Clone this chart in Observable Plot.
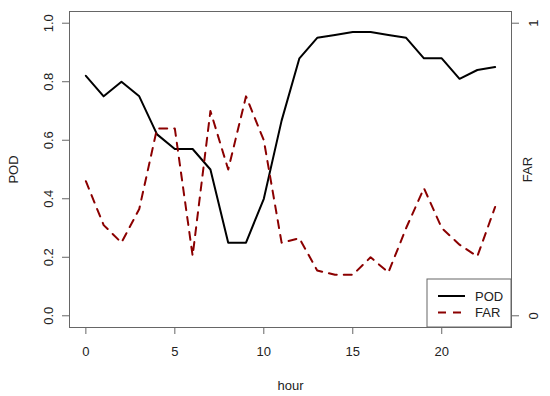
<!DOCTYPE html>
<html><head><meta charset="utf-8">
<script src="https://cdn.jsdelivr.net/npm/d3@7"></script>
<script src="https://cdn.jsdelivr.net/npm/@observablehq/plot@0.6"></script>
<style>body{margin:0;background:#fff} #chart{width:550px;height:396px}</style>
</head><body><div id="chart"></div>
<script>
const hours = [0,1,2,3,4,5,6,7,8,9,10,11,12,13,14,15,16,17,18,19,20,21,22,23];
const pod = [0.82,0.75,0.80,0.75,0.62,0.57,0.57,0.50,0.25,0.25,0.40,0.667,0.88,0.95,0.96,0.97,0.97,0.96,0.95,0.88,0.88,0.81,0.84,0.85];
const far = [0.46,0.31,0.25,0.365,0.64,0.64,0.205,0.70,0.50,0.75,0.60,0.25,0.265,0.155,0.14,0.14,0.20,0.148,0.30,0.436,0.30,0.243,0.203,0.372];
const xTicks = [0,5,10,15,20];
const podTicks = [0,0.2,0.4,0.6,0.8,1.0];
const farTicks = [0,1];
const seriesNames = ["POD","FAR"];
const seriesColors = ["#000000","#8b0000"];
const seriesDash = [null,"8,7"];

const data = hours.map((h,i)=>({hour:h, pod:pod[i], far:far[i]}));
const axisColor = "#666";
const font = "'Liberation Sans', Arial, sans-serif";

const chart = Plot.plot({
  width:550, height:396,
  marginLeft:69, marginRight:39, marginTop:11, marginBottom:69,
  x:{domain:[-0.92,23.92]},
  y:{domain:[-0.04,1.04]},
  style:{fontFamily:font, fontSize:"13px", color:"#222", background:"white"},
  marks:[
    Plot.frame({stroke:axisColor}),
    Plot.axisX({ticks:xTicks, tickFormat:d3.format("d"), tickSize:7, tickPadding:12, stroke:axisColor,
      label:"hour", labelAnchor:"center", labelArrow:"none", labelOffset:62}),
    Plot.axisY({ticks:podTicks, tickFormat:d3.format(".1f"), tickSize:7, tickPadding:10, tickRotate:-90, stroke:axisColor,
      label:"POD", labelAnchor:"center", labelArrow:"none", labelOffset:61}),
    Plot.axisY({anchor:"right", ticks:farTicks, tickFormat:d3.format("d"), tickSize:7, tickPadding:19, tickRotate:-90, stroke:axisColor,
      label:"FAR", labelAnchor:"center", labelArrow:"none", labelOffset:20}),
    Plot.line(data,{x:"hour", y:"pod", stroke:seriesColors[0], strokeWidth:2, strokeLinejoin:"round"}),
    Plot.line(data,{x:"hour", y:"far", stroke:seriesColors[1], strokeWidth:2, strokeDasharray:seriesDash[1], strokeLinejoin:"round"})
  ]
});
document.getElementById("chart").appendChild(chart);

// legend (bottom-right inside plot region)
const xr = chart.scale("x").range, yr = chart.scale("y").range;
const lw = 84, lh = 48;
const lx = xr[1] - lw, ly = yr[0] - lh;
const g = d3.select(chart).append("g").attr("font-family", font).attr("font-size", 13).attr("text-anchor", "start");
g.append("rect").attr("x", lx).attr("y", ly).attr("width", lw).attr("height", lh)
  .attr("fill", "white").attr("stroke", axisColor);
seriesNames.forEach((name,i)=>{
  const yy = ly + 17 + i*16.5;
  g.append("line").attr("x1", lx+11).attr("x2", lx+38).attr("y1", yy).attr("y2", yy)
    .attr("stroke", seriesColors[i]).attr("stroke-width", 2)
    .attr("stroke-dasharray", seriesDash[i]);
  g.append("text").attr("x", lx+48).attr("y", yy).attr("dy", "0.35em").attr("fill", "#222").text(name);
});
</script>
</body></html>
